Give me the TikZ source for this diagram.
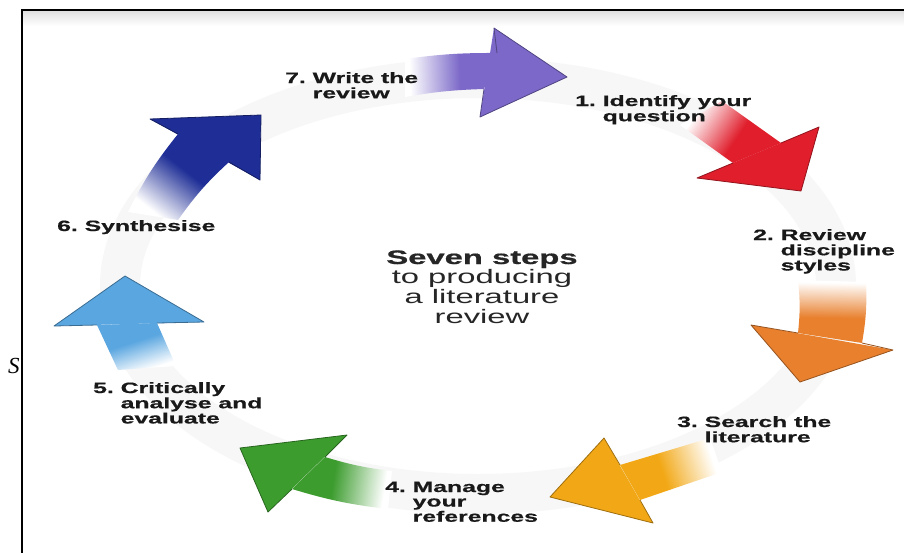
\documentclass[tikz,border=0pt]{standalone}
\usepackage{fontspec}
\setmainfont{Liberation Sans}[BoldFeatures={FakeBold=0.6}]
\newfontfamily\serifit{Liberation Serif}
\usepackage{graphicx}
\definecolor{cPurple}{HTML}{7B68C8}
\definecolor{cRed}{HTML}{E01E2C}
\definecolor{cOrange}{HTML}{E8802E}
\definecolor{cYellow}{HTML}{F2A816}
\definecolor{cGreen}{HTML}{3C9C2E}
\definecolor{cLblue}{HTML}{5AA6E0}
\definecolor{cDblue}{HTML}{1E2E96}
\colorlet{arrowc}{white}
\pgfdeclarehorizontalshading[arrowc]{fadeshade}{100bp}{color(0bp)=(white); color(27bp)=(white); color(55bp)=(arrowc); color(100bp)=(arrowc)}
\newcommand\lab[2]{\scalebox{1.65}[1]{\begin{tabular}[t]{@{}l@{\ }l@{}}#1 & #2\end{tabular}}}
\tikzset{
  lbl/.style={anchor=base west, inner sep=0pt, text=black!90, font=\fontsize{15}{14.5}\selectfont\bfseries},
  headline/.style={draw=#1!65!black, line width=0.8pt, line join=round},
  shaft/.style={shading=fadeshade, shading angle=#1}
}
\begin{document}
\begin{tikzpicture}[x=1pt,y=-1pt]
\useasboundingbox (0,0) rectangle (904,552);
\fill[white] (0,0) rectangle (904,552);
% faint shadow under the top rule
\shade[top color=black!12, bottom color=white] (23,11) rectangle (904,26);
% faint ring
\draw[black!3, line width=40pt] (478,286) ellipse [x radius=358pt, y radius=208pt];

% ---- 7 purple
\colorlet{arrowc}{cPurple}
\coordinate (p-t1) at (405,59); \coordinate (p-t2) at (405,97);
\coordinate (p-n1) at (497,53); \coordinate (p-n2) at (484,89);
\coordinate (p-b1) at (494,28); \coordinate (p-tip) at (567,77); \coordinate (p-b2) at (480,117);
\shade[shaft=2] (p-t1) to[bend left=4] (p-n1) -- (p-n2) to[bend right=4] (p-t2) -- cycle;
\fill[cPurple] (p-b1) -- (p-tip) -- (p-b2) -- cycle;
\draw[headline=cPurple] (p-n1) -- (p-b1) -- (p-tip) -- (p-b2) -- (p-n2);

% ---- 1 red
\colorlet{arrowc}{cRed}
\coordinate (r-t1) at (722,101); \coordinate (r-t2) at (680,125);
\coordinate (r-n1) at (781,143); \coordinate (r-n2) at (733,163);
\coordinate (r-b1) at (819,127); \coordinate (r-tip) at (801,191); \coordinate (r-b2) at (697,178);
\shade[shaft=-34] (r-t1) -- (r-n1) -- (r-n2) -- (r-t2) -- cycle;
\fill[cRed] (r-b1) -- (r-tip) -- (r-b2) -- cycle;
\draw[headline=cRed] (r-n1) -- (r-b1) -- (r-tip) -- (r-b2) -- (r-n2);

% ---- 2 orange
\colorlet{arrowc}{cOrange}
\coordinate (o-t1) at (866,282); \coordinate (o-t2) at (798,280);
\coordinate (o-n1) at (862,343); \coordinate (o-n2) at (798,333);
\coordinate (o-b1) at (893,350); \coordinate (o-tip) at (800,382); \coordinate (o-b2) at (751,325);
\shade[shaft=-91] (o-t1) to[bend left=6] (o-n1) -- (o-n2) to[bend right=6] (o-t2) -- cycle;
\fill[cOrange] (o-b1) -- (o-tip) -- (o-b2) -- cycle;
\draw[headline=cOrange] (o-n1) -- (o-b1) -- (o-tip) -- (o-b2) -- (o-n2);

% ---- 3 yellow
\colorlet{arrowc}{cYellow}
\coordinate (y-t1) at (722,472); \coordinate (y-t2) at (710,438);
\coordinate (y-n1) at (640,500); \coordinate (y-n2) at (620,465);
\coordinate (y-b1) at (653,523); \coordinate (y-tip) at (550,497); \coordinate (y-b2) at (604,438);
\shade[shaft=-162] (y-t1) -- (y-n1) -- (y-n2) -- (y-t2) -- cycle;
\fill[cYellow] (y-b1) -- (y-tip) -- (y-b2) -- cycle;
\draw[headline=cYellow] (y-n1) -- (y-b1) -- (y-tip) -- (y-b2) -- (y-n2);

% ---- 4 green
\colorlet{arrowc}{cGreen}
\coordinate (g-t1) at (388,509); \coordinate (g-t2) at (392,471);
\coordinate (g-n1) at (292,489); \coordinate (g-n2) at (325,457);
\coordinate (g-b1) at (268,512); \coordinate (g-tip) at (240,448); \coordinate (g-b2) at (347,435);
\shade[shaft=171] (g-t1) to[bend left=5] (g-n1) -- (g-n2) to[bend right=5] (g-t2) -- cycle;
\fill[cGreen] (g-b1) -- (g-tip) -- (g-b2) -- cycle;
\draw[headline=cGreen] (g-n1) -- (g-b1) -- (g-tip) -- (g-b2) -- (g-n2);

% ---- 5 light blue
\colorlet{arrowc}{cLblue}
\coordinate (l-t1) at (118,370); \coordinate (l-t2) at (176,366);
\coordinate (l-n1) at (97,325); \coordinate (l-n2) at (157,323);
\coordinate (l-b1) at (54,326); \coordinate (l-tip) at (125,276); \coordinate (l-b2) at (204,322);
\shade[shaft=108] (l-t1) -- (l-n1) -- (l-n2) -- (l-t2) -- cycle;
\fill[cLblue] (l-b1) -- (l-tip) -- (l-b2) -- cycle;
\draw[headline=cLblue] (l-n1) -- (l-b1) -- (l-tip) -- (l-b2) -- (l-n2);

% ---- 6 dark blue
\colorlet{arrowc}{cDblue}
\coordinate (d-t1) at (128,212); \coordinate (d-t2) at (178,220);
\coordinate (d-n1) at (178,134); \coordinate (d-n2) at (229,162);
\coordinate (d-b1) at (150,119); \coordinate (d-tip) at (261,115); \coordinate (d-b2) at (260,180);
\shade[shaft=52] (d-t1) to[bend left=6] (d-n1) -- (d-n2) to[bend right=6] (d-t2) -- cycle;
\fill[cDblue] (d-b1) -- (d-tip) -- (d-b2) -- cycle;
\draw[headline=cDblue] (d-n1) -- (d-b1) -- (d-tip) -- (d-b2) -- (d-n2);

% ---- labels
\node[lbl] (L7) at (285,83)  {\lab{7.}{Write the\\ & review}};
\node[lbl] (L1) at (575,106) {\lab{1.}{Identify your\\ & question}};
\node[lbl] (L2) at (753,240) {\lab{2.}{Review\\ & discipline\\ & styles}};
\node[lbl] (L3) at (677,427) {\lab{3.}{Search the\\ & literature}};
\node[lbl] (L4) at (385,492) {\lab{4.}{Manage\\ & your\\ & references}};
\node[lbl] (L5) at (93,393)  {\lab{5.}{Critically\\ & analyse and\\ & evaluate}};
\node[lbl] (L6) at (57,231)  {\lab{6.}{Synthesise}};

% ---- centre title
\node[anchor=base, inner sep=0pt, text=black!85, font=\fontsize{19.5}{18.5}\selectfont] (title) at (482,264)
  {\scalebox{1.68}[1]{\begin{tabular}[t]{@{}c@{}}\bfseries Seven steps\\ to producing\\ a literature\\ review\end{tabular}}};

% ---- frame and stray letter
\draw[line width=2.5pt] (22,553) -- (22,10) -- (905,10);
\node[anchor=base west, inner sep=0pt, font=\serifit\itshape\fontsize{23}{23}\selectfont] (S) at (8,373) {S};
\end{tikzpicture}
\end{document}
